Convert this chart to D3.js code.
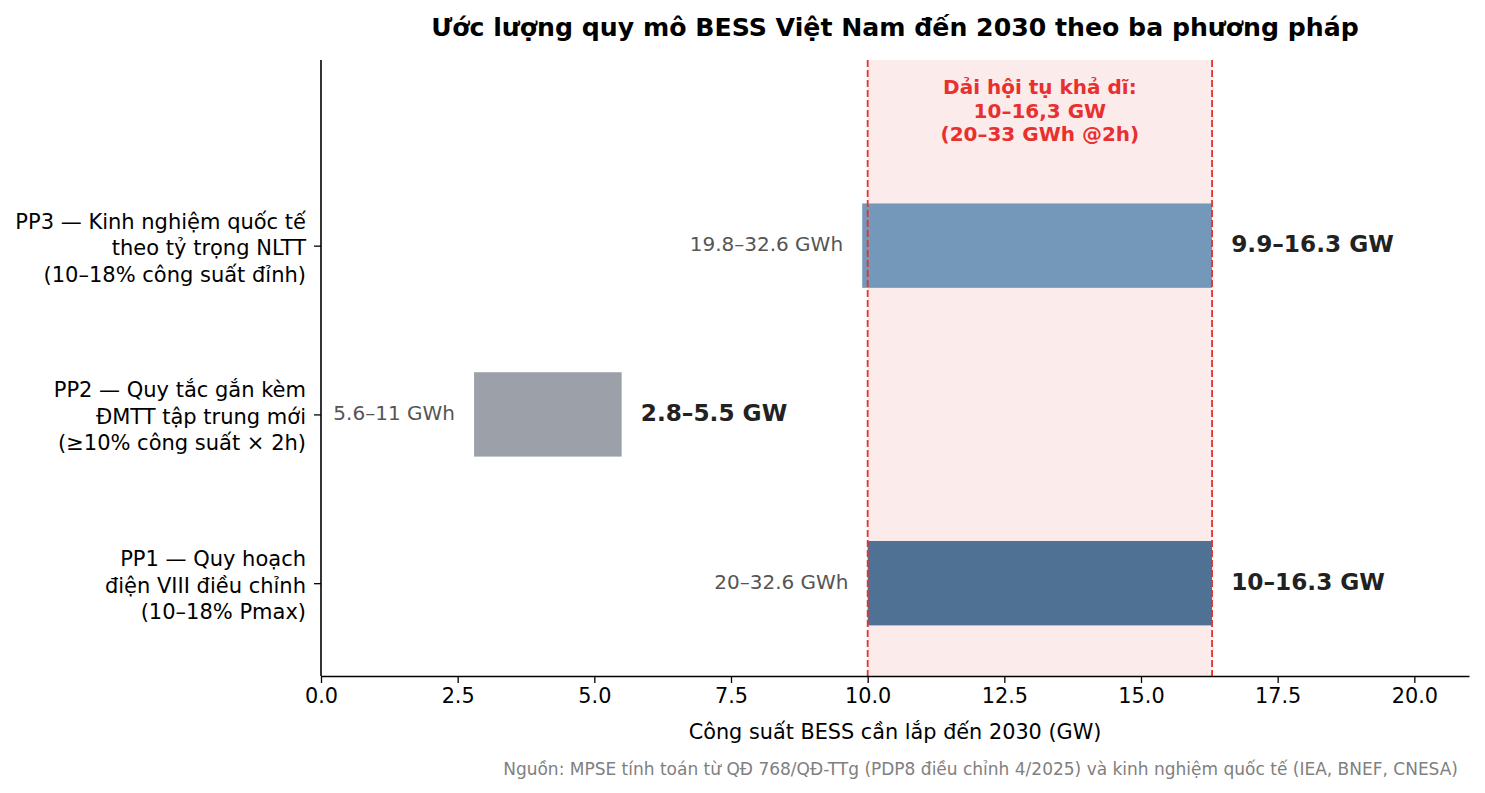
<!DOCTYPE html>
<html>
<head>
<meta charset="utf-8">
<script src="https://cdn.jsdelivr.net/npm/d3@7"></script>
<style>
  body { margin: 0; background: #fff; }
  text { font-family: "DejaVu Sans", sans-serif; }
</style>
</head>
<body>
<svg id="chart" width="1485" height="793"></svg>
<script>
// data
const methods = [
  ["PP1 — Quy hoạch", "điện VIII điều chỉnh", "(10–18% Pmax)"],
  ["PP2 — Quy tắc gắn kèm", "ĐMTT tập trung mới", "(≥10% công suất × 2h)"],
  ["PP3 — Kinh nghiệm quốc tế", "theo tỷ trọng NLTT", "(10–18% công suất đỉnh)"]
]
const lowGW = [10, 2.8, 9.9]
const highGW = [16.3, 5.5, 16.3]
const gwLabels = ["10–16.3 GW", "2.8–5.5 GW", "9.9–16.3 GW"]
const gwhLabels = ["20–32.6 GWh", "5.6–11 GWh", "19.8–32.6 GWh"]
const barColors = ["#4f7193", "#9ca1a9", "#7398b9"]
const bandRange = [10, 16.3]
const bandText = ["Dải hội tụ khả dĩ:", "10–16,3 GW", "(20–33 GWh @2h)"]
const xTicks = [0, 2.5, 5, 7.5, 10, 12.5, 15, 17.5, 20]

const svg = d3.select("#chart")
const margin = { top: 60, right: 16, bottom: 117, left: 321 }
const width = 1485 - margin.left - margin.right
const height = 793 - margin.top - margin.bottom
const red = "#e8302f"

const g = svg.append("g")
  .attr("transform", "translate(" + margin.left + "," + margin.top + ")")

const x = d3.scaleLinear().domain([0, 21]).range([0, width])
const y = d3.scaleLinear().domain([-0.55, 3.1]).range([height, 0])
const barH = y(0) - y(0.5)

// convergence band
g.append("rect")
  .attr("x", x(bandRange[0]))
  .attr("y", 0)
  .attr("width", x(bandRange[1]) - x(bandRange[0]))
  .attr("height", height)
  .attr("fill", "#fcebeb")

// bars
methods.forEach((m, i) => {
  g.append("rect")
    .attr("x", x(lowGW[i]))
    .attr("y", y(i) - barH / 2)
    .attr("width", x(highGW[i]) - x(lowGW[i]))
    .attr("height", barH)
    .attr("fill", barColors[i])

  g.append("text")
    .attr("x", x(lowGW[i] - 0.35))
    .attr("y", y(i))
    .attr("dy", "0.28em")
    .attr("text-anchor", "end")
    .attr("font-size", 20)
    .attr("fill", "#555")
    .text(gwhLabels[i])

  g.append("text")
    .attr("x", x(highGW[i] + 0.35))
    .attr("y", y(i))
    .attr("dy", "0.28em")
    .attr("font-size", 23.2)
    .attr("font-weight", "bold")
    .attr("fill", "#222")
    .text(gwLabels[i])
})

// dashed band edges
bandRange.forEach(v => {
  g.append("line")
    .attr("x1", x(v)).attr("x2", x(v))
    .attr("y1", 0).attr("y2", height)
    .attr("stroke", red)
    .attr("stroke-width", 1.8)
    .attr("stroke-dasharray", "7,3")
})

// band label
const bandMid = x((bandRange[0] + bandRange[1]) / 2)
bandText.forEach((t, k) => {
  g.append("text")
    .attr("x", bandMid)
    .attr("y", 27 + k * 23.3)
    .attr("dy", "0.36em")
    .attr("text-anchor", "middle")
    .attr("font-size", 20)
    .attr("font-weight", "bold")
    .attr("fill", red)
    .text(t)
})

// x axis
const xAxis = g.append("g")
  .attr("transform", "translate(0," + height + ")")
  .call(d3.axisBottom(x).tickValues(xTicks).tickFormat(d3.format(".1f")).tickSize(7).tickSizeOuter(0).tickPadding(5))
xAxis.select(".domain").attr("stroke", "#000").attr("stroke-width", 1.6)
xAxis.selectAll(".tick line").attr("stroke", "#000").attr("stroke-width", 1.3)
xAxis.selectAll(".tick text").attr("font-size", 20.8).attr("fill", "#000")
  .attr("font-family", "DejaVu Sans")

// y axis
const yAxis = g.append("g")
  .call(d3.axisLeft(y).tickValues([0, 1, 2]).tickFormat("").tickSize(7).tickSizeOuter(0))
yAxis.select(".domain").attr("stroke", "#000").attr("stroke-width", 1.6)
  .attr("d", "M0," + height + "V0")
yAxis.selectAll(".tick line").attr("stroke", "#000").attr("stroke-width", 1.3)

methods.forEach((lines, i) => {
  const t = g.append("text")
    .attr("x", -15)
    .attr("y", y(i))
    .attr("text-anchor", "end")
    .attr("font-size", 21)
    .attr("fill", "#000")
  lines.forEach((l, k) => {
    t.append("tspan")
      .attr("x", -15)
      .attr("y", y(i) + (k - 1) * 26.5)
      .attr("dy", "0.45em")
      .text(l)
  })
})

// titles
svg.append("text")
  .attr("x", margin.left + width / 2)
  .attr("y", 36)
  .attr("text-anchor", "middle")
  .attr("font-size", 25.2)
  .attr("font-weight", "bold")
  .attr("fill", "#000")
  .text("Ước lượng quy mô BESS Việt Nam đến 2030 theo ba phương pháp")

svg.append("text")
  .attr("x", margin.left + width / 2)
  .attr("y", 739)
  .attr("text-anchor", "middle")
  .attr("font-size", 20.8)
  .attr("fill", "#000")
  .text("Công suất BESS cần lắp đến 2030 (GW)")

svg.append("text")
  .attr("x", 1458)
  .attr("y", 775)
  .attr("text-anchor", "end")
  .attr("font-size", 17)
  .attr("fill", "#808080")
  .text("Nguồn: MPSE tính toán từ QĐ 768/QĐ-TTg (PDP8 điều chỉnh 4/2025) và kinh nghiệm quốc tế (IEA, BNEF, CNESA)")
</script>
</body>
</html>
